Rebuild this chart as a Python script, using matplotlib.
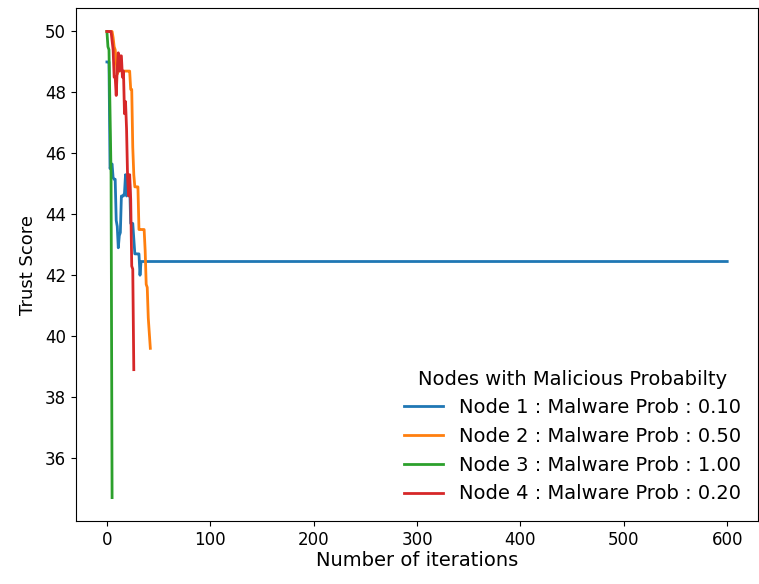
import matplotlib
matplotlib.use("Agg")
import matplotlib.pyplot as plt

# trust score per iteration for each node
node1_x = list(range(34)) + [600]
node1_y = [49.0, 49.0, 49.0, 45.5, 45.6, 45.65, 45.2, 45.15, 45.15, 43.8,
           43.6, 42.9, 43.3, 43.4, 44.6, 44.6, 44.6, 44.7, 45.3, 44.6,
           45.3, 45.2, 45.0, 43.7, 43.7, 43.7, 43.2, 42.7, 42.7, 42.7,
           42.7, 42.7, 42.0, 42.45, 42.45]

node2_y = [50.0, 50.0, 50.0, 50.0, 50.0, 50.0, 49.8, 49.5, 49.4, 49.0,
           48.6, 48.7, 49.0, 48.8, 48.7, 48.7, 48.7, 48.7, 48.7, 48.7,
           48.7, 48.7, 48.7, 48.1, 48.1, 46.2, 45.3, 44.9, 44.9, 44.9,
           44.9, 43.5, 43.5, 43.5, 43.5, 43.5, 43.5, 42.8, 41.7, 41.6,
           40.6, 40.1, 39.6]

node3_y = [50.0, 49.5, 49.4, 47.4, 45.3, 34.7]

node4_y = [50.0, 50.0, 50.0, 50.0, 50.0, 49.7, 49.4, 48.5, 48.5, 47.9,
           48.8, 49.3, 48.7, 49.2, 49.2, 48.5, 48.7, 47.3, 47.7, 46.8,
           45.2, 44.6, 45.3, 44.5, 42.3, 42.2, 38.9]

labels = ["Node 1 : Malware Prob : 0.10", "Node 2 : Malware Prob : 0.50",
          "Node 3 : Malware Prob : 1.00", "Node 4 : Malware Prob : 0.20"]

plt.rcParams['font.size'] = 12
fig = plt.figure(figsize=(7.59, 5.84), dpi=100)
ax = fig.add_axes([0.100, 0.108, 0.899, 0.878])

ax.plot(node1_x, node1_y, lw=2, label=labels[0])
ax.plot(range(len(node2_y)), node2_y, lw=2, label=labels[1])
ax.plot(range(len(node3_y)), node3_y, lw=2, label=labels[2])
ax.plot(range(len(node4_y)), node4_y, lw=2, label=labels[3])

ax.set_xlabel("Number of iterations", fontsize=14, labelpad=2)
ax.set_ylabel("Trust Score", fontsize=13, labelpad=6)
ax.set_xticks([0, 100, 200, 300, 400, 500, 600])
ax.set_yticks([36, 38, 40, 42, 44, 46, 48, 50])
ax.legend(title="Nodes with Malicious Probabilty", loc="lower right",
          frameon=False, fontsize=14, title_fontsize=14)

fig.savefig("out.png")
